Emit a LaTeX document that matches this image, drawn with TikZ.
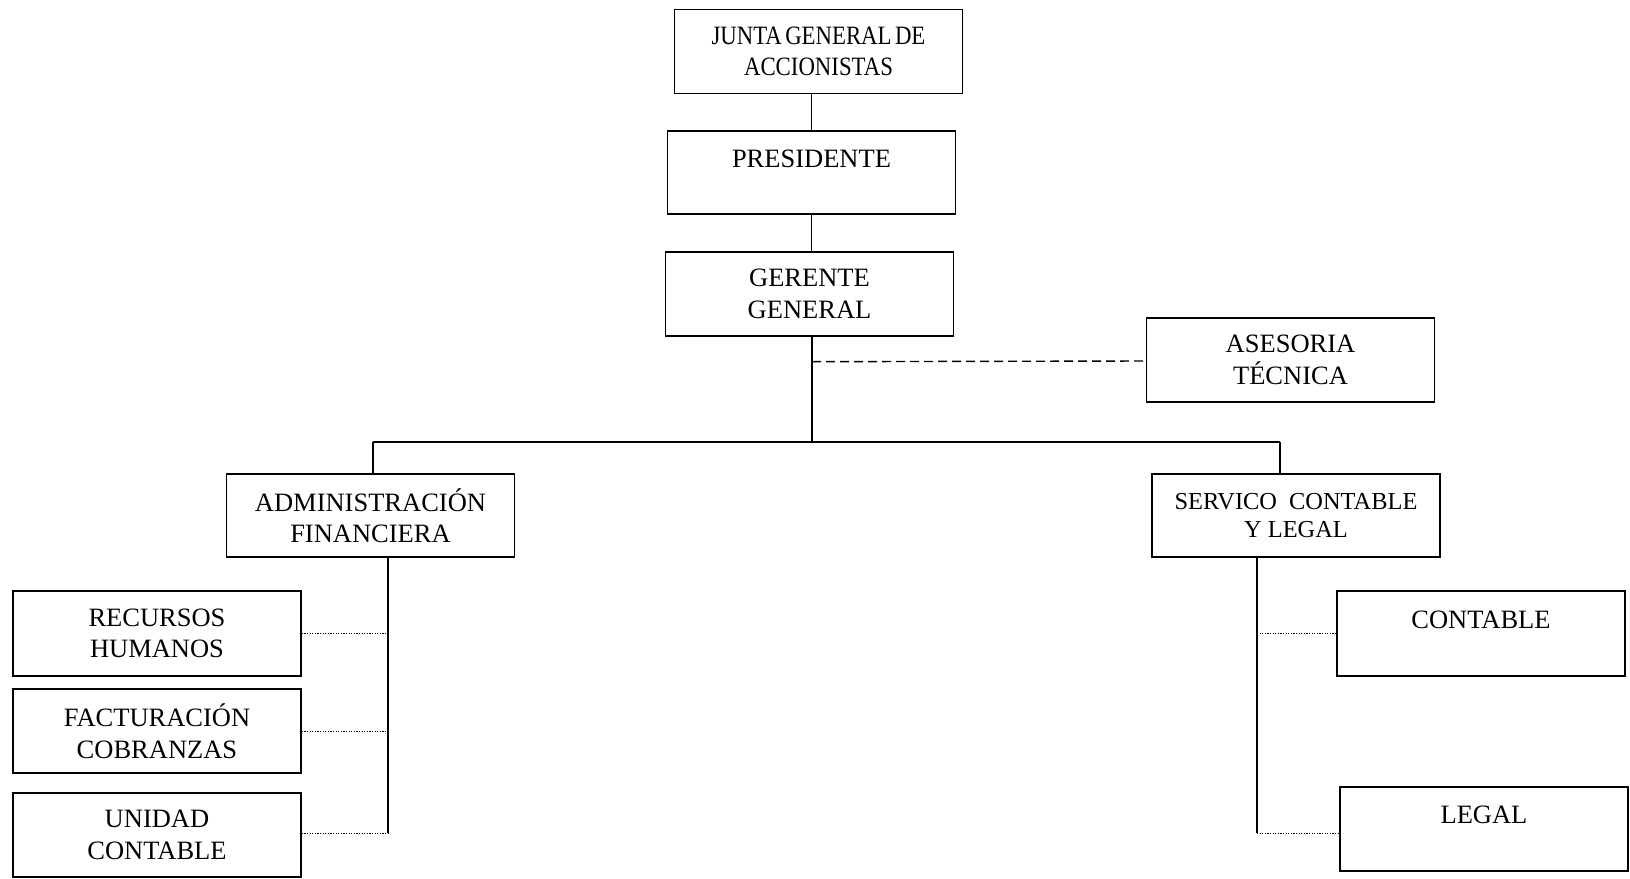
\documentclass[tikz,border=0pt]{standalone}
\usepackage{fontspec}
\setmainfont{Liberation Serif}
\newfontfamily\narrowfont[FakeStretch=0.86,WordSpace=0.6]{Liberation Serif}
\usepackage{tikz}
\usetikzlibrary{positioning,calc}

\begin{document}
\begin{tikzpicture}[x=1pt,y=-1pt,
    box/.style={draw, line width=1.4pt, minimum width=288pt, align=center,
        inner sep=0pt, font=\fontsize{26.5}{31.5}\selectfont},
    toptext/.style={text height=18pt, text depth=29pt},
    link/.style={line width=1.4pt},
    dotlink/.style={line width=0.9pt, dash pattern=on 1.2pt off 1.4pt},
    dashlink/.style={line width=1.4pt, dash pattern=on 9pt off 5pt}]
    \useasboundingbox (0,0) rectangle (1630,878);

    % Draw top boxes
    \node[box, minimum height=84pt, font=\narrowfont\fontsize{26.5}{31.5}\selectfont] (junta) at (818.5,51.5) {JUNTA GENERAL DE\\ACCIONISTAS};
    \node[box, toptext, minimum height=83pt] (pres) at (811.5,172.5) {PRESIDENTE};
    \node[box, minimum height=84pt] (ger) at (809.5,294) {GERENTE\\GENERAL};
    \node[box, minimum height=84pt] (ases) at (1290.5,360) {ASESORIA\\TÉCNICA};

    % Draw second level
    \node[box, minimum height=83pt] (admin) at (370.5,515.5) {ADMINISTRACIÓN\\FINANCIERA};
    \node[box, minimum height=83pt, font=\fontsize{24.4}{28.5}\selectfont] (serv) at (1296,515.5) {SERVICO\ \ CONTABLE\\Y LEGAL};

    % Draw units
    \node[box, minimum height=85pt] (rrhh) at (157,633.5) {RECURSOS\\HUMANOS};
    \node[box, minimum height=84pt] (fact) at (157,731) {FACTURACIÓN\\COBRANZAS};
    \node[box, minimum height=84pt] (unid) at (157,835) {UNIDAD\\CONTABLE};
    \node[box, toptext, minimum height=85pt] (cont) at (1481,633.5) {CONTABLE};
    \node[box, toptext, minimum height=84pt] (legal) at (1484,829) {LEGAL};

    % Helper points
    \coordinate (bus) at (812,442);
    \coordinate (busl) at (373,442);
    \coordinate (busr) at (1280,442);
    \coordinate (aend) at (388,833);
    \coordinate (send) at (1257,833);

    % Draw connectors
    \draw[link] (junta.south -| pres.north) -- (pres.north);
    \draw[link] (pres.south) -- (pres.south |- ger.north);
    \draw[link] (ger.south -| bus) -- (bus);
    \draw[link] (busl) -- (busr);
    \draw[link] (busl) -- (busl |- admin.north);
    \draw[link] (busr) -- (busr |- serv.north);
    \draw[dashlink] (ger.south -| bus) ++(0,25) -- (ases.west |- 0,361);

    \draw[link] (admin.south -| aend) -- (aend);
    \draw[dotlink] (rrhh.east) -- (rrhh.east -| aend);
    \draw[dotlink] (fact.east) -- (fact.east -| aend);
    \draw[dotlink] (aend -| unid.east) -- (aend);

    \draw[link] (serv.south -| send) -- (send);
    \draw[dotlink] (send |- cont.west) -- (cont.west);
    \draw[dotlink] (send) -- (send -| legal.west);
\end{tikzpicture}
\end{document}
